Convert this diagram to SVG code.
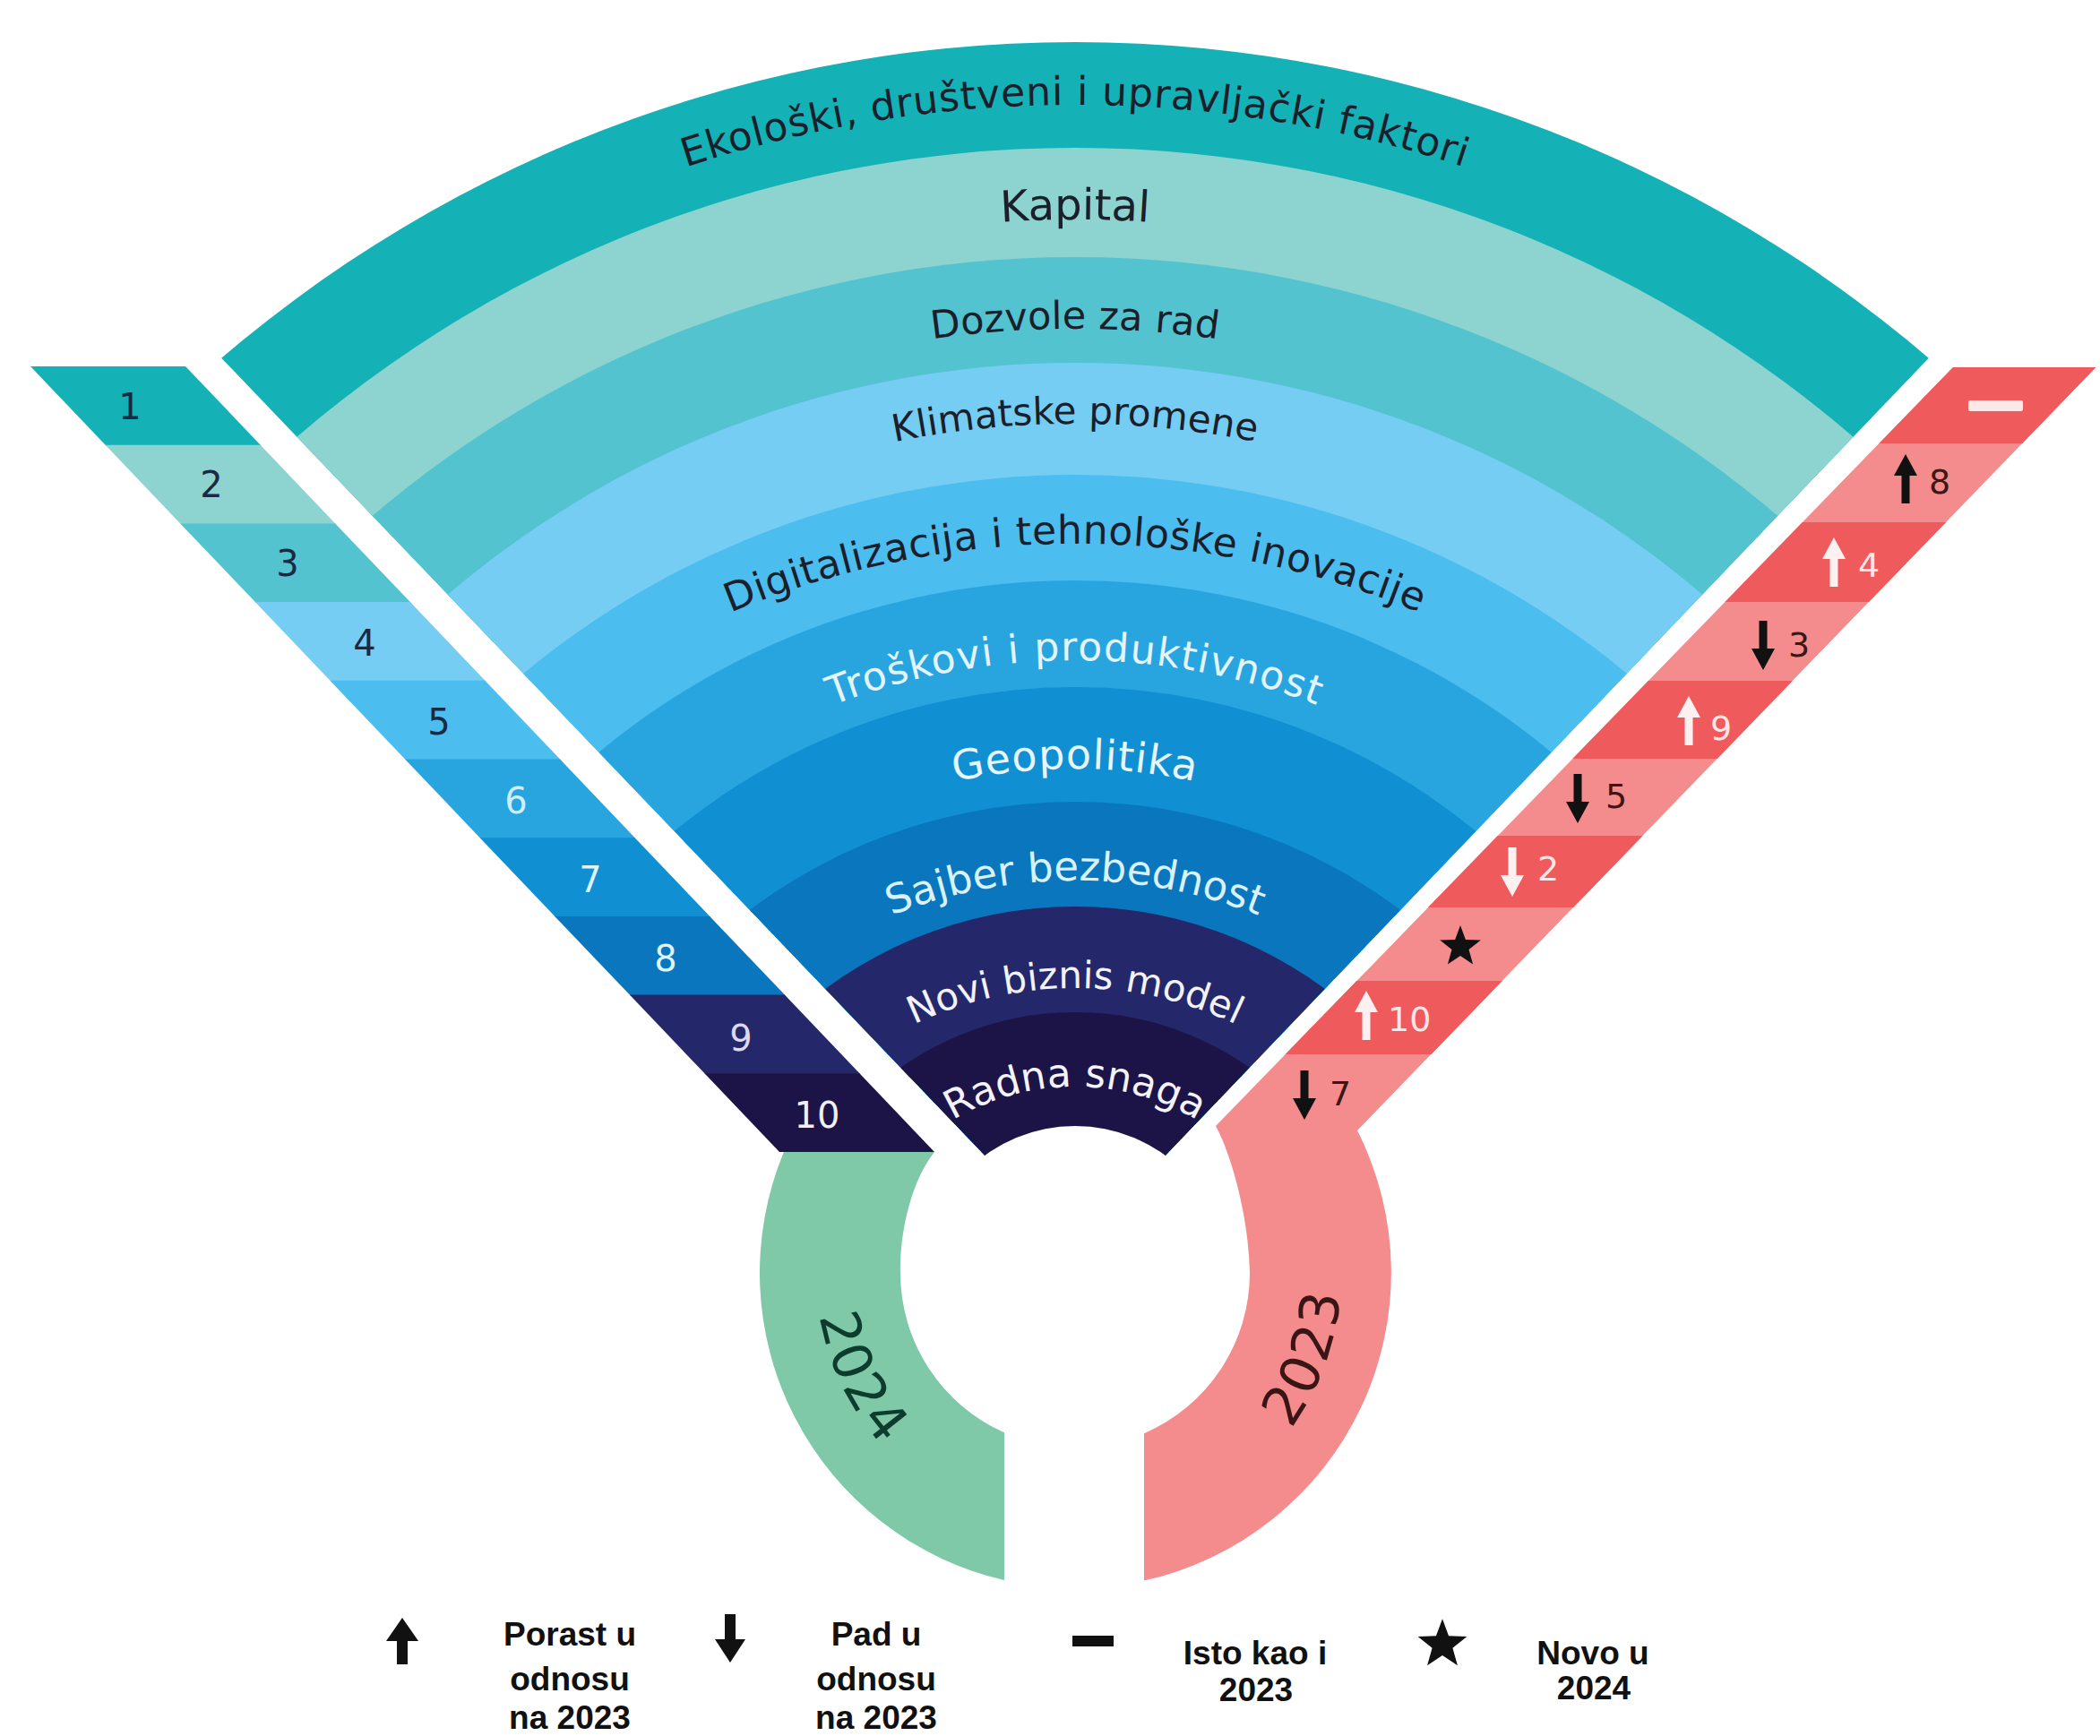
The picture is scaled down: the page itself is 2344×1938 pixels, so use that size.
<svg xmlns="http://www.w3.org/2000/svg" width="2344" height="1938" viewBox="0 0 2344 1938">
<defs>
<style>
.ft{font-family:"DejaVu Sans","Open Sans",sans-serif;text-anchor:middle}
.dk{fill:#1a1f2b}
.num{font-family:"DejaVu Sans","Open Sans",sans-serif;font-size:40px;text-anchor:middle}
.rnum{font-family:"DejaVu Sans","Open Sans",sans-serif;font-size:38px}
.nd{fill:#1b2a44}
.rd{fill:#3d1616}
.rl{fill:#fde6e6}
.leg{font-family:"Liberation Sans",Arial,sans-serif;font-weight:bold;font-size:37px;fill:#111;text-anchor:middle}
.yr{font-family:"DejaVu Sans","Open Sans",sans-serif;font-size:60px;letter-spacing:3px;text-anchor:middle}
</style>
<clipPath id="wedge"><polygon points="1200,1395 -327,-200 2727,-200"/></clipPath>
<path id="arrUp" d="M0,0 L13,24 L4.5,24 L4.5,55 L-4.5,55 L-4.5,24 L-13,24 Z"/>
<path id="arrDn" d="M0,55 L13,31 L4.5,31 L4.5,0 L-4.5,0 L-4.5,31 L-13,31 Z"/>
<path id="star" d="M0,-24 L5.88,-8.09 L22.83,-7.42 L9.51,3.09 L14.11,19.42 L0,10 L-14.11,19.42 L-9.51,3.09 L-22.83,-7.42 L-5.88,-8.09 Z"/>
<path id="p1" d="M503.5,303.6 A1393,1393 0 0 1 1896.5,303.6"/>
<path id="p2" d="M772.5,320.4 A1250,1250 0 0 1 1627.5,320.4"/>
<path id="p3" d="M725.4,472.2 A1123,1123 0 0 1 1674.6,472.2"/>
<path id="p4" d="M691.5,609.3 A1017,1017 0 0 1 1708.5,609.3"/>
<path id="p5" d="M626.4,787.8 A1000,1000 0 0 1 1773.6,787.8"/>
<path id="p6" d="M716,913.2 A753,753 0 0 1 1684,913.2"/>
<path id="p7" d="M793.8,1005.9 A632,632 0 0 1 1606.2,1005.9"/>
<path id="p8" d="M806.1,1146.1 A557,557 0 0 1 1593.9,1146.1"/>
<path id="p9" d="M858.4,1280.8 A417,417 0 0 1 1541.6,1280.8"/>
<path id="p10" d="M968.8,1346.5 A267,267 0 0 1 1431.2,1346.5"/>
<path id="pg" d="M928.4,1322.2 A289,289 0 0 0 1149.8,1705.6"/>
<path id="pr" d="M1251.6,1713.5 A297,297 0 0 0 1479.1,1319.4"/>
</defs>
<rect width="2344" height="1938" fill="#ffffff"/>

<g id="connectors"></g>

<g id="fan">
<g clip-path="url(#wedge)">
<circle cx="1200" cy="1509.9" r="1462.9" fill="#14b1b6"/>
<circle cx="1200" cy="1494.9" r="1329.9" fill="#8dd3cf"/>
<circle cx="1200" cy="1496.3" r="1209.3" fill="#54c3d0"/>
<circle cx="1200" cy="1481.3" r="1076.3" fill="#75cdf3"/>
<circle cx="1200" cy="1495.6" r="965.6" fill="#4bbdee"/>
<circle cx="1200" cy="1480.5" r="832.5" fill="#28a5df"/>
<circle cx="1200" cy="1469.4" r="702.4" fill="#108fd2"/>
<circle cx="1200" cy="1500.9" r="605.9" fill="#0a76bd"/>
<circle cx="1200" cy="1481" r="469" fill="#24286a"/>
<circle cx="1200" cy="1467" r="337" fill="#1c1446"/>
</g>
<circle cx="1200" cy="1428" r="171" fill="#ffffff"/>
<text class="ft dk" font-size="44" letter-spacing="0.8"><textPath href="#p1" startOffset="50%">Ekološki, društveni i upravljački faktori</textPath></text>
<text class="ft dk" font-size="48"><textPath href="#p2" startOffset="50%">Kapital</textPath></text>
<text class="ft dk" font-size="43"><textPath href="#p3" startOffset="50%">Dozvole za rad</textPath></text>
<text class="ft dk" font-size="42"><textPath href="#p4" startOffset="50%">Klimatske promene</textPath></text>
<text class="ft dk" font-size="44" letter-spacing="0.5"><textPath href="#p5" startOffset="50%">Digitalizacija i tehnološke inovacije</textPath></text>
<text class="ft" font-size="44" letter-spacing="1.4" fill="#e3f5fb"><textPath href="#p6" startOffset="50%">Troškovi i produktivnost</textPath></text>
<text class="ft" font-size="46" letter-spacing="1" fill="#e6f6fb"><textPath href="#p7" startOffset="50%">Geopolitika</textPath></text>
<text class="ft" font-size="45" fill="#d8f2fb"><textPath href="#p8" startOffset="50%">Sajber bezbednost</textPath></text>
<text class="ft" font-size="42" fill="#f2f2f8"><textPath href="#p9" startOffset="50%">Novi biznis model</textPath></text>
<text class="ft" font-size="44" fill="#f4f2fa"><textPath href="#p10" startOffset="50%">Radna snaga</textPath></text>
</g>

<g id="strip-2024">
<polygon points="34,409 207,409 291.6,497.7 118.6,497.7" fill="#14b1b6"/>
<polygon points="117.6,496.7 290.6,496.7 375.2,585.4 202.2,585.4" fill="#8dd3cf"/>
<polygon points="201.2,584.4 374.2,584.4 458.8,673.1 285.8,673.1" fill="#54c3d0"/>
<polygon points="284.8,672.1 457.8,672.1 542.4,760.8 369.4,760.8" fill="#75cdf3"/>
<polygon points="368.4,759.8 541.4,759.8 626,848.5 453,848.5" fill="#4bbdee"/>
<polygon points="452,847.5 625,847.5 709.6,936.2 536.6,936.2" fill="#28a5df"/>
<polygon points="535.6,935.2 708.6,935.2 793.2,1023.9 620.2,1023.9" fill="#108fd2"/>
<polygon points="619.2,1022.9 792.2,1022.9 876.8,1111.6 703.8,1111.6" fill="#0a76bd"/>
<polygon points="702.8,1110.6 875.8,1110.6 960.4,1199.3 787.4,1199.3" fill="#24286a"/>
<polygon points="786.4,1198.3 959.4,1198.3 1043,1286 870,1286" fill="#1c1446"/>
<text class="num nd" x="145" y="468">1</text>
<text class="num nd" x="236" y="555">2</text>
<text class="num nd" x="321" y="643">3</text>
<text class="num nd" x="407" y="732">4</text>
<text class="num nd" x="490" y="820">5</text>
<text class="num" x="576" y="908" fill="#cfeefa">6</text>
<text class="num" x="659" y="996" fill="#dff3fb">7</text>
<text class="num" x="743" y="1084" fill="#dff3fb">8</text>
<text class="num" x="827" y="1173" fill="#dcd8ee">9</text>
<text class="num" x="912" y="1259" fill="#f0eef8">10</text>
</g>

<g id="ring-2024">
<path d="M874.9,1286 L1043,1286 C1015,1322 1004,1380 1005,1421 A195,195 0 0 0 1121,1599.3 L1121,1764 A352,352 0 0 1 874.9,1286 Z" fill="#7fc9a8"/>
<text class="yr" fill="#0d3b2c"><textPath href="#pg" startOffset="46%">2024</textPath></text>
</g>

<g id="strip-2023">
<path d="M2180,410 L2339.4,410 L1515,1262 A352,352 0 0 1 1277,1764.5 L1277,1600.2 A195,195 0 0 0 1395,1421 C1394,1360 1375,1290 1357,1257 Z" fill="#f48b8c"/>
<polygon points="2180,410 2339.4,410 2257.2,495 2097.4,495" fill="#ef5a5c"/>
<polygon points="2011.9,583 2172.1,583 2086,672 1925.4,672" fill="#ef5a5c"/>
<polygon points="1839.9,760 2000.9,760 1916.8,847 1755.3,847" fill="#ef5a5c"/>
<polygon points="1671.7,933 1833.6,933 1756.2,1013 1594,1013" fill="#ef5a5c"/>
<polygon points="1514.3,1095 1676.9,1095 1597.6,1177 1434.6,1177" fill="#ef5a5c"/>
<rect x="2197" y="447" width="61" height="12" rx="2" fill="#fde8e8"/>
<use href="#arrUp" x="2127" y="507" fill="#111"/>
<text class="rnum rd" x="2153" y="551">8</text>
<use href="#arrUp" x="2047" y="600" fill="#fdf0f0"/>
<text class="rnum rl" x="2074" y="644">4</text>
<use href="#arrDn" x="1968" y="693" fill="#111"/>
<text class="rnum rd" x="1996" y="733">3</text>
<use href="#arrUp" x="1885" y="777" fill="#fdf0f0"/>
<text class="rnum rl" x="1909" y="826">9</text>
<use href="#arrDn" x="1761" y="864" fill="#111"/>
<text class="rnum rd" x="1792" y="902">5</text>
<use href="#arrDn" x="1688" y="946" fill="#fdf0f0"/>
<text class="rnum rl" x="1716" y="983">2</text>
<use href="#star" x="1630" y="1057" fill="#111"/>
<use href="#arrUp" x="1525" y="1106" fill="#fdf0f0"/>
<text class="rnum rl" x="1549" y="1151">10</text>
<use href="#arrDn" x="1456" y="1195" fill="#111"/>
<text class="rnum rd" x="1484" y="1234">7</text>
</g>

<g id="ring-2023">
<text class="yr" fill="#3a1515"><textPath href="#pr" startOffset="60%">2023</textPath></text>
</g>

<g id="legend">
<path d="M449,1806 L467,1832 L455,1832 L455,1858 L443,1858 L443,1832 L431,1832 Z" fill="#111"/>
<text class="leg" x="636" y="1837">Porast u</text>
<text class="leg" x="636" y="1887">odnosu</text>
<text class="leg" x="636" y="1930">na 2023</text>
<path d="M815,1856 L832,1830 L821,1830 L821,1802 L809,1802 L809,1830 L798,1830 Z" fill="#111"/>
<text class="leg" x="978" y="1837">Pad u</text>
<text class="leg" x="978" y="1887">odnosu</text>
<text class="leg" x="978" y="1930">na 2023</text>
<rect x="1197" y="1826" width="46" height="12" fill="#111"/>
<text class="leg" x="1401" y="1858">Isto kao i</text>
<text class="leg" x="1402" y="1899">2023</text>
<use href="#star" transform="translate(1610,1836) scale(1.2)" fill="#111"/>
<text class="leg" x="1778" y="1858">Novo u</text>
<text class="leg" x="1779" y="1897">2024</text>
</g>
</svg>
